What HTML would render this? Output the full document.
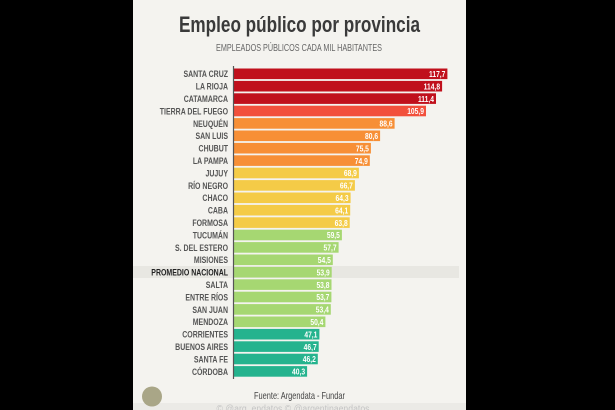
<!DOCTYPE html>
<html><head><meta charset="utf-8"><style>
html,body{margin:0;padding:0;background:#000;}
svg{display:block;}
text{font-family:"Liberation Sans",sans-serif;}
</style></head><body>
<svg width="615" height="410" viewBox="0 0 615 410" xmlns="http://www.w3.org/2000/svg">
<rect x="0" y="0" width="615" height="410" fill="#000"/>
<rect x="133" y="0" width="333" height="410" fill="#f4f3ef"/>
<rect x="133" y="403" width="333" height="7" fill="#ebeae6"/>
<!-- promedio band -->
<rect x="133" y="266" width="326" height="12" fill="#e8e7e2"/>
<!-- title -->
<text x="299.5" y="32" text-anchor="middle" font-size="22" font-weight="bold" fill="#3a3a3a" textLength="241" lengthAdjust="spacingAndGlyphs">Empleo público por provincia</text>
<text x="299" y="51" text-anchor="middle" font-size="10.3" fill="#666" textLength="166" lengthAdjust="spacingAndGlyphs">EMPLEADOS PÚBLICOS CADA MIL HABITANTES</text>

<!-- bars -->
<g>
<rect x="234" y="68.5" width="213.4" height="10.6" fill="#c0101c"/>
<rect x="234" y="80.9" width="208.1" height="10.6" fill="#c0101c"/>
<rect x="234" y="93.3" width="202.0" height="10.6" fill="#c0101c"/>
<rect x="234" y="105.7" width="192.0" height="10.6" fill="#f2503c"/>
<rect x="234" y="118.1" width="160.6" height="10.6" fill="#f78f36"/>
<rect x="234" y="130.5" width="146.1" height="10.6" fill="#f78f36"/>
<rect x="234" y="142.9" width="136.9" height="10.6" fill="#f78f36"/>
<rect x="234" y="155.3" width="135.8" height="10.6" fill="#f78f36"/>
<rect x="234" y="167.7" width="124.9" height="10.6" fill="#f4cb47"/>
<rect x="234" y="180.1" width="120.9" height="10.6" fill="#f4cb47"/>
<rect x="234" y="192.5" width="116.6" height="10.6" fill="#f4cb47"/>
<rect x="234" y="204.9" width="116.2" height="10.6" fill="#f4cb47"/>
<rect x="234" y="217.3" width="115.7" height="10.6" fill="#f4cb47"/>
<rect x="234" y="229.7" width="107.9" height="10.6" fill="#a6d772"/>
<rect x="234" y="242.1" width="104.6" height="10.6" fill="#a6d772"/>
<rect x="234" y="254.5" width="98.8" height="10.6" fill="#a6d772"/>
<rect x="234" y="266.9" width="97.7" height="10.6" fill="#a6d772"/>
<rect x="234" y="279.3" width="97.5" height="10.6" fill="#a6d772"/>
<rect x="234" y="291.7" width="97.4" height="10.6" fill="#a6d772"/>
<rect x="234" y="304.1" width="96.8" height="10.6" fill="#a6d772"/>
<rect x="234" y="316.5" width="91.4" height="10.6" fill="#a6d772"/>
<rect x="234" y="328.9" width="85.4" height="10.6" fill="#25b38e"/>
<rect x="234" y="341.3" width="84.7" height="10.6" fill="#25b38e"/>
<rect x="234" y="353.7" width="83.8" height="10.6" fill="#25b38e"/>
<rect x="234" y="366.1" width="73.1" height="10.6" fill="#25b38e"/>
</g>
<line x1="233.5" y1="66" x2="233.5" y2="379" stroke="#555" stroke-width="1.2"/>

<!-- labels -->
<g transform="translate(228 0) scale(0.75 1)" font-size="9.3" font-weight="bold" fill="#555" text-anchor="end">
<text x="0" y="77.2">SANTA CRUZ</text>
<text x="0" y="89.6">LA RIOJA</text>
<text x="0" y="102.0">CATAMARCA</text>
<text x="0" y="114.4">TIERRA DEL FUEGO</text>
<text x="0" y="126.8">NEUQUÉN</text>
<text x="0" y="139.2">SAN LUIS</text>
<text x="0" y="151.6">CHUBUT</text>
<text x="0" y="164.0">LA PAMPA</text>
<text x="0" y="176.4">JUJUY</text>
<text x="0" y="188.8">RÍO NEGRO</text>
<text x="0" y="201.2">CHACO</text>
<text x="0" y="213.6">CABA</text>
<text x="0" y="226.0">FORMOSA</text>
<text x="0" y="238.4">TUCUMÁN</text>
<text x="0" y="250.8">S. DEL ESTERO</text>
<text x="0" y="263.2">MISIONES</text>
<text x="0" y="275.6" fill="#222">PROMEDIO NACIONAL</text>
<text x="0" y="288.0">SALTA</text>
<text x="0" y="300.4">ENTRE RÍOS</text>
<text x="0" y="312.8">SAN JUAN</text>
<text x="0" y="325.2">MENDOZA</text>
<text x="0" y="337.6">CORRIENTES</text>
<text x="0" y="350.0">BUENOS AIRES</text>
<text x="0" y="362.4">SANTA FE</text>
<text x="0" y="374.8">CÓRDOBA</text>
</g>

<!-- values -->
<g font-size="8.4" font-weight="bold" fill="#fff" text-anchor="end">
<text transform="translate(445.4 77.0) scale(0.8 1)">117,7</text>
<text transform="translate(440.1 89.4) scale(0.8 1)">114,8</text>
<text transform="translate(434.0 101.8) scale(0.8 1)">111,4</text>
<text transform="translate(424.0 114.2) scale(0.8 1)">105,9</text>
<text transform="translate(392.6 126.6) scale(0.8 1)">88,6</text>
<text transform="translate(378.1 139.0) scale(0.8 1)">80,6</text>
<text transform="translate(368.9 151.4) scale(0.8 1)">75,5</text>
<text transform="translate(367.8 163.8) scale(0.8 1)">74,9</text>
<text transform="translate(356.9 176.2) scale(0.8 1)">68,9</text>
<text transform="translate(352.9 188.6) scale(0.8 1)">66,7</text>
<text transform="translate(348.6 201.0) scale(0.8 1)">64,3</text>
<text transform="translate(348.2 213.4) scale(0.8 1)">64,1</text>
<text transform="translate(347.7 225.8) scale(0.8 1)">63,8</text>
<text transform="translate(339.9 238.2) scale(0.8 1)">59,5</text>
<text transform="translate(336.6 250.6) scale(0.8 1)">57,7</text>
<text transform="translate(330.8 263.0) scale(0.8 1)">54,5</text>
<text transform="translate(329.7 275.4) scale(0.8 1)">53,9</text>
<text transform="translate(329.5 287.8) scale(0.8 1)">53,8</text>
<text transform="translate(329.4 300.2) scale(0.8 1)">53,7</text>
<text transform="translate(328.8 312.6) scale(0.8 1)">53,4</text>
<text transform="translate(323.4 325.0) scale(0.8 1)">50,4</text>
<text transform="translate(317.4 337.4) scale(0.8 1)">47,1</text>
<text transform="translate(316.7 349.8) scale(0.8 1)">46,7</text>
<text transform="translate(315.8 362.2) scale(0.8 1)">46,2</text>
<text transform="translate(305.1 374.6) scale(0.8 1)">40,3</text>
</g>

<!-- footer -->
<circle cx="152" cy="396.5" r="10" fill="#a9a687"/>
<text x="299.5" y="399" text-anchor="middle" font-size="10.5" fill="#444" textLength="91" lengthAdjust="spacingAndGlyphs">Fuente: Argendata - Fundar</text>
<text x="293" y="412" text-anchor="middle" font-size="10" fill="#c4c4c4" textLength="153" lengthAdjust="spacingAndGlyphs">© @arg_endatos    © @argentinaendatos</text>
</svg>
</body></html>
